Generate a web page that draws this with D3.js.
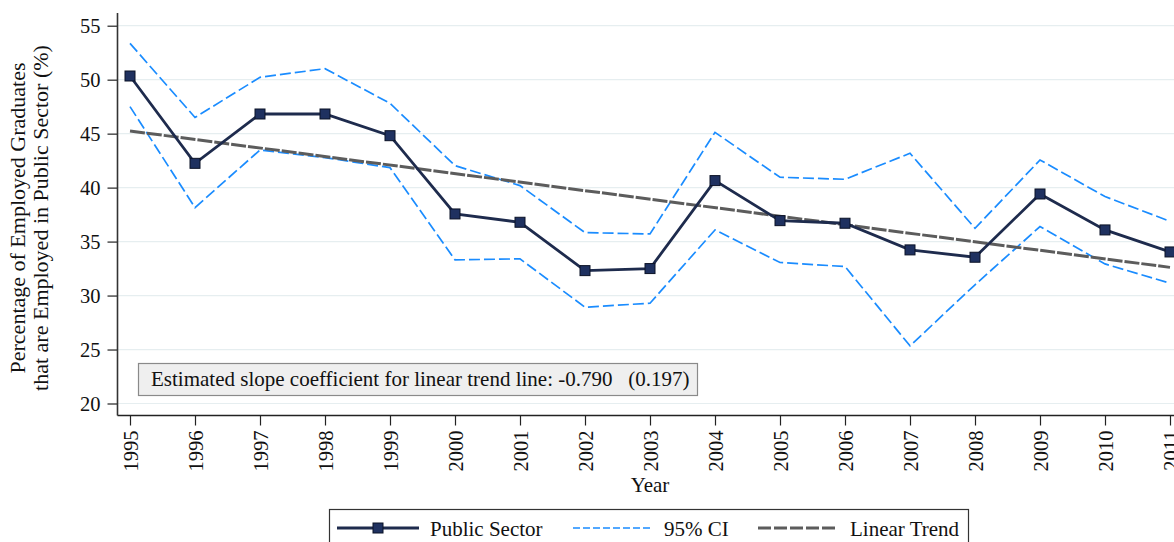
<!DOCTYPE html>
<html>
<head>
<meta charset="utf-8">
<script src="https://cdn.jsdelivr.net/npm/d3@7"></script>
<style>
  html, body { margin: 0; padding: 0; background: #fff; }
  svg { display: block; font-family: "Liberation Serif", "Times New Roman", serif; }
</style>
</head>
<body>
<svg id="chart" width="1174" height="542"></svg>
<script>
// Share of employed graduates working in the public sector, by year
const years = [1995, 1996, 1997, 1998, 1999, 2000, 2001, 2002, 2003, 2004, 2005, 2006, 2007, 2008, 2009, 2010, 2011];
const publicSector = [50.34, 42.25, 46.82, 46.82, 44.81, 37.56, 36.79, 32.31, 32.50, 40.65, 36.94, 36.70, 34.23, 33.55, 39.41, 36.08, 34.04];
const ciUpper = [53.36, 46.50, 50.22, 51.02, 47.81, 42.04, 40.19, 35.83, 35.71, 45.12, 40.96, 40.77, 43.18, 36.23, 42.56, 39.17, 36.88];
const ciLower = [47.50, 38.15, 43.49, 42.78, 41.85, 33.30, 33.40, 28.92, 29.29, 36.08, 33.06, 32.69, 25.34, 31.00, 36.39, 32.93, 31.14];
// Fitted linear trend: value in the first year and estimated slope per year
const trendStart = 45.25;
const trendSlope = -0.790;
const trendSE = 0.197;
const yTicks = [20, 25, 30, 35, 40, 45, 50, 55];

const svg = d3.select("#chart");

const x = d3.scaleLinear().domain([1995, 2011]).range([130, 1170]);
const y = d3.scaleLinear().domain([20, 55]).range([403.5, 25.7]);
const axisX = 117.5, axisY = 415.5;

// horizontal gridlines
svg.append("g").selectAll("line").data(yTicks).join("line")
  .attr("x1", axisX).attr("x2", 1174)
  .attr("y1", d => y(d)).attr("y2", d => y(d))
  .attr("stroke", "#e6eef0").attr("stroke-width", 1.2);

// y axis
const gy = svg.append("g").attr("transform", `translate(${axisX},0)`)
  .call(d3.axisLeft(y).tickValues(yTicks).tickSize(10).tickPadding(7).tickFormat(d3.format("d")));
gy.select(".domain").remove();
gy.selectAll(".tick line").attr("stroke", "#222").attr("stroke-width", 1.2);
gy.selectAll(".tick text").attr("font-size", 20.5).attr("fill", "#111")
  .attr("font-family", "Liberation Serif, serif");
svg.append("line").attr("x1", axisX).attr("x2", axisX).attr("y1", 13).attr("y2", axisY)
  .attr("stroke", "#333").attr("stroke-width", 1.6);

// x axis
const gx = svg.append("g").attr("transform", `translate(0,${axisY})`)
  .call(d3.axisBottom(x).tickValues(years).tickSize(10).tickFormat(d3.format("d")));
gx.select(".domain").remove();
gx.selectAll(".tick line").attr("stroke", "#222").attr("stroke-width", 1.2);
gx.selectAll(".tick text")
  .attr("font-size", 20.5).attr("fill", "#111").attr("font-family", "Liberation Serif, serif")
  .attr("transform", "rotate(-90)")
  .attr("text-anchor", "end").attr("dy", "0.35em")
  .attr("x", -15).attr("y", 0);
svg.append("line").attr("x1", axisX).attr("x2", 1174).attr("y1", axisY).attr("y2", axisY)
  .attr("stroke", "#222").attr("stroke-width", 1.6);

// axis titles
svg.append("text").attr("x", 650).attr("y", 492).attr("text-anchor", "middle")
  .attr("font-size", 21).attr("fill", "#111").text("Year");
const yTitle = svg.append("g").attr("transform", "translate(0,218) rotate(-90)");
yTitle.append("text").attr("x", 0).attr("y", 25).attr("text-anchor", "middle")
  .attr("font-size", 22).attr("fill", "#111").text("Percentage of Employed Graduates");
yTitle.append("text").attr("x", 0).attr("y", 48).attr("text-anchor", "middle")
  .attr("font-size", 22).attr("fill", "#111").text("that are Employed in Public Sector (%)");

const line = d3.line().x((d, i) => x(years[i])).y(d => y(d));

// confidence band edges
[ciUpper, ciLower].forEach(s => {
  svg.append("path").datum(s).attr("d", line)
    .attr("fill", "none").attr("stroke", "#1a8cff").attr("stroke-width", 1.7)
    .attr("stroke-dasharray", "11,4");
});

// linear trend
const trendYears = [years[0], years[years.length - 1]];
const trendVals = trendYears.map(t => trendStart + trendSlope * (t - years[0]));
svg.append("path").datum(trendVals)
  .attr("d", d3.line().x((d, i) => x(trendYears[i])).y(d => y(d)))
  .attr("fill", "none").attr("stroke", "#5c5c5c").attr("stroke-width", 3)
  .attr("stroke-dasharray", "15,2");

// public sector series
svg.append("path").datum(publicSector).attr("d", line)
  .attr("fill", "none").attr("stroke", "#1e2b4d").attr("stroke-width", 2.8);
svg.append("g").selectAll("rect").data(publicSector).join("rect")
  .attr("x", (d, i) => x(years[i]) - 5).attr("y", d => y(d) - 5)
  .attr("width", 10).attr("height", 10)
  .attr("fill", "#1f3160").attr("stroke", "#0b1226").attr("stroke-width", 1);

// slope annotation
svg.append("rect").attr("x", 138.5).attr("y", 363.5).attr("width", 559).attr("height", 32)
  .attr("fill", "#efefef").attr("stroke", "#8a8a8a").attr("stroke-width", 1.2);
svg.append("text").attr("x", 151).attr("y", 385.5).attr("font-size", 21).attr("fill", "#111")
  .attr("xml:space", "preserve")
  .text(`Estimated slope coefficient for linear trend line: ${trendSlope.toFixed(3)}   (${trendSE.toFixed(3)})`);

// legend
const lg = svg.append("g");
lg.append("rect").attr("x", 329.5).attr("y", 509.5).attr("width", 639).attr("height", 40)
  .attr("fill", "#fff").attr("stroke", "#333").attr("stroke-width", 1.2);
const ly = 528;
lg.append("line").attr("x1", 337).attr("x2", 419).attr("y1", ly).attr("y2", ly)
  .attr("stroke", "#1e2b4d").attr("stroke-width", 2.8);
lg.append("rect").attr("x", 373).attr("y", ly - 5).attr("width", 10).attr("height", 10)
  .attr("fill", "#1f3160").attr("stroke", "#0b1226").attr("stroke-width", 1);
lg.append("text").attr("x", 430).attr("y", 536).attr("font-size", 21).attr("fill", "#111").text("Public Sector");
lg.append("line").attr("x1", 573).attr("x2", 652).attr("y1", ly).attr("y2", ly)
  .attr("stroke", "#1a8cff").attr("stroke-width", 1.7).attr("stroke-dasharray", "7,3");
lg.append("text").attr("x", 664).attr("y", 536).attr("font-size", 21).attr("fill", "#111").text("95% CI");
lg.append("line").attr("x1", 758).attr("x2", 837).attr("y1", ly).attr("y2", ly)
  .attr("stroke", "#5c5c5c").attr("stroke-width", 3).attr("stroke-dasharray", "13,3");
lg.append("text").attr("x", 850).attr("y", 536).attr("font-size", 21).attr("fill", "#111").text("Linear Trend");
</script>
</body>
</html>
